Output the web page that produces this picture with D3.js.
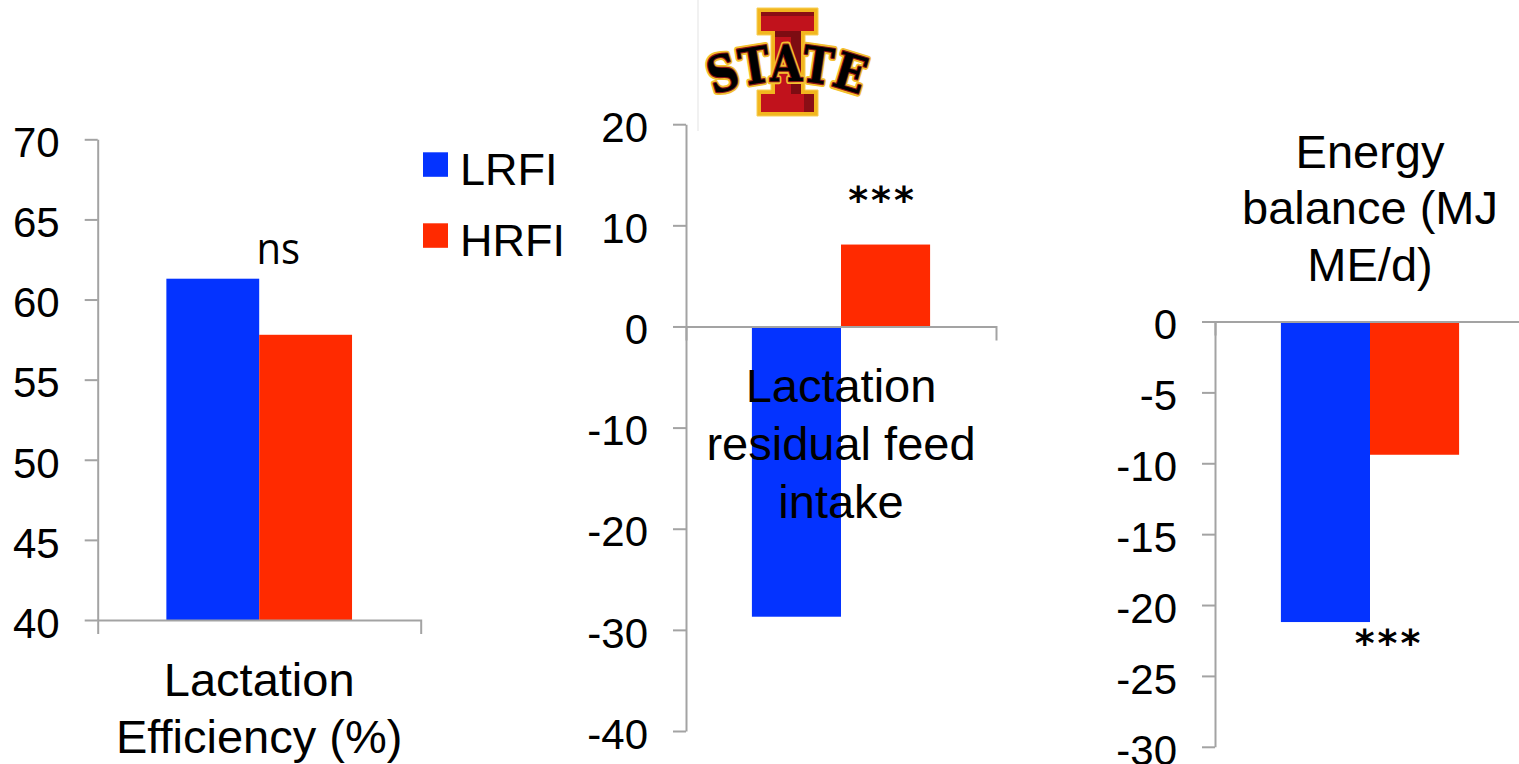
<!DOCTYPE html>
<html>
<head>
<meta charset="utf-8">
<script src="https://cdn.jsdelivr.net/npm/d3@7/dist/d3.min.js"></script>
<style>
  html, body { margin: 0; padding: 0; background: #ffffff; }
  svg { display: block; }
  text { font-family: "Liberation Sans", Arial, sans-serif; fill: #000; }
  .ns { font-family: "Open Sans", "Noto Sans", sans-serif; }
  .stars { font-family: "DejaVu Sans", sans-serif; font-weight: bold; }
</style>
</head>
<body>
<svg id="chart" width="1519" height="764"></svg>
<script>
// ---- data ----
const series = ["LRFI", "HRFI"];
const seriesColors = ["#0433ff", "#ff2a00"];

const categories = ["Lactation Efficiency (%)", "Lactation residual feed intake", "Energy balance (MJ ME/d)"];
const categoryLines = [
  ["Lactation", "Efficiency (%)"],
  ["Lactation", "residual feed", "intake"],
  ["Energy", "balance (MJ", "ME/d)"]
];

const lactationEfficiency = [61.3, 57.8];        // %
const lactationRFI = [-28.7, 8.1];               // residual feed intake
const energyBalance = [-21.2, -9.4];             // MJ ME/d

const efficiencyTicks = [40, 45, 50, 55, 60, 65, 70];
const rfiTicks = [-40, -30, -20, -10, 0, 10, 20];
const energyTicks = [-30, -25, -20, -15, -10, -5, 0];

const significance = ["ns", "***", "***"];

// ---- layout ----
const svg = d3.select("#chart");
const AXIS = "#a3a3a3";

const panels = [
  { cat: 0, values: lactationEfficiency, ticks: efficiencyTicks, domain: [40, 70], base: 40,
    left: 97.7, right: 420.7, top: 139.3, bottom: 620 },
  { cat: 1, values: lactationRFI, ticks: rfiTicks, domain: [-40, 20], base: 0,
    left: 686, right: 996, top: 124.2, bottom: 731 },
  { cat: 2, values: energyBalance, ticks: energyTicks, domain: [-30, 0], base: 0,
    left: 1215, right: 1525, top: 321.5, bottom: 746.8 }
];

function label(g, x, y, str, size, cls, sy) {
  return g.append("text")
    .attr("class", cls || null)
    .attr("transform", `translate(${x},${y}) scale(1,${sy || 1})`)
    .attr("text-anchor", "middle")
    .style("font-size", size + "px")
    .text(str);
}

panels.forEach(p => {
  const g = svg.append("g");
  const y = d3.scaleLinear().domain(p.domain).range([p.bottom, p.top]);
  const x0 = d3.scaleBand().domain([categories[p.cat]]).range([p.left, p.right]).padding(0.27);
  const x1 = d3.scaleBand().domain(series).range([0, x0.bandwidth()]);
  const cx = x0(categories[p.cat]) + x0.bandwidth() / 2;
  p.y = y; p.x0 = x0; p.x1 = x1; p.cx = cx;

  // bars
  g.selectAll("rect.bar")
    .data(p.values.map((v, i) => ({ s: series[i], v, c: seriesColors[i] })))
    .join("rect")
    .attr("class", "bar")
    .attr("x", d => x0(categories[p.cat]) + x1(d.s))
    .attr("width", x1.bandwidth())
    .attr("y", d => y(Math.max(d.v, p.base)))
    .attr("height", d => Math.abs(y(d.v) - y(p.base)))
    .attr("fill", d => d.c);

  // value axis
  const ya = g.append("g")
    .attr("transform", `translate(${p.left},0)`)
    .call(d3.axisLeft(y).tickValues(p.ticks).tickSize(13).tickSizeOuter(0).tickPadding(25)
      .tickFormat(d => String(d)));
  ya.selectAll("path, line").attr("stroke", AXIS).attr("stroke-width", 2);
  ya.selectAll("text")
    .attr("fill", "#000")
    .attr("dy", "0.41em")
    .style("font-size", "42px")
    .style("font-family", "\"Liberation Sans\", Arial, sans-serif");

  // category axis
  const xa = g.append("g")
    .attr("transform", `translate(0,${y(p.base)})`)
    .call(d3.axisBottom(x0).tickValues([]).tickSizeOuter(14));
  xa.selectAll("path, line").attr("stroke", AXIS).attr("stroke-width", 2);
});

// category labels
{
  const p = panels[0], g = svg.append("g");
  categoryLines[0].forEach((t, i) => label(g, p.cx, p.y(p.base) + 76 + i * 56.7, t, 47));
}
{
  const p = panels[1], g = svg.append("g");
  categoryLines[1].forEach((t, i) => label(g, p.cx, p.y(0) + 76 + i * 58, t, 47));
}
{
  const p = panels[2], g = svg.append("g");
  categoryLines[2].forEach((t, i) => label(g, p.cx, p.y(0) - 154 + i * 56.8, t, 47));
}

// significance marks
{
  const p = panels[0];
  label(svg, p.cx + 19, p.y(p.values[0]) - 15, significance[0], 40, "ns", 1.08);
  const q = panels[1];
  const redX = q.x0(categories[1]) + q.x1(series[1]) + q.x1.bandwidth() / 2;
  label(svg, redX - 3, q.y(q.values[1]) - 32, significance[1], 38, "stars").attr("letter-spacing", "3px");
  const r = panels[2];
  label(svg, r.cx + 19, r.y(r.values[0]) + 34, significance[2], 38, "stars").attr("letter-spacing", "3px");
}

// legend
const legend = svg.append("g");
series.forEach((s, i) => {
  const row = legend.append("g").attr("transform", `translate(423,${152.3 + i * 71})`);
  row.append("rect").attr("width", 25).attr("height", 24.5).attr("fill", seriesColors[i]);
  row.append("text").attr("x", 37).attr("y", 33).style("font-size", "45px").text(s);
});

// Iowa State logo
const logo = svg.append("g");
logo.append("line").attr("x1", 698).attr("x2", 698).attr("y1", 0).attr("y2", 131)
  .attr("stroke", "#ececec").attr("stroke-width", 1.5);
const iPath = "M757,8 H818 V35 H805 V90 H818 V116 H757 V90 H771 V35 H757 Z";
logo.append("path").attr("d", iPath).attr("fill", "#f2b61f").attr("stroke", "#f7cf55").attr("stroke-width", 1);
logo.append("path")
  .attr("d", "M761,12 H814 V31 H801 V94 H814 V112 H761 V94 H775 V31 H761 Z")
  .attr("fill", "#c1121c");
// bevel shading
logo.append("path").attr("d", "M791,31 H801 V94 H791 Z").attr("fill", "#7d0c12");
logo.append("path").attr("d", "M775,31 H801 V37 H775 Z").attr("fill", "#7d0c12");
logo.append("path").attr("d", "M804,94 H814 V112 H804 Z").attr("fill", "#8a0e15");
logo.append("path").attr("d", "M761,12 H814 V16 H761 Z").attr("fill", "#8a0e15");

const defs = svg.append("defs");
defs.append("path").attr("id", "stateArc").attr("d", "M711,96 Q787,66 863,96");
const grad = defs.append("linearGradient").attr("id", "goldGrad").attr("x1", 0).attr("x2", 0).attr("y1", 0).attr("y2", 1);
grad.append("stop").attr("offset", "0%").attr("stop-color", "#fff4b0");
grad.append("stop").attr("offset", "55%").attr("stop-color", "#fad94f");
grad.append("stop").attr("offset", "100%").attr("stop-color", "#eeb018");

const stateText = (stroke, sw, fill) => logo.append("text")
  .style("font-family", "\"DejaVu Serif\", \"Liberation Serif\", serif")
  .style("font-weight", "bold")
  .style("font-size", "50px")
  .attr("fill", fill)
  .attr("stroke", stroke)
  .attr("stroke-width", sw)
  .attr("stroke-linejoin", "round")
  .append("textPath")
  .attr("href", "#stateArc")
  .attr("startOffset", "50%")
  .attr("text-anchor", "middle")
  .attr("textLength", 150)
  .attr("lengthAdjust", "spacingAndGlyphs")
  .text("STATE");
stateText("#f4c030", 6, "#f4c030");
stateText("#8a1418", 2.2, "#8a1418");
stateText("none", 0, "url(#goldGrad)");
</script>
</body>
</html>
